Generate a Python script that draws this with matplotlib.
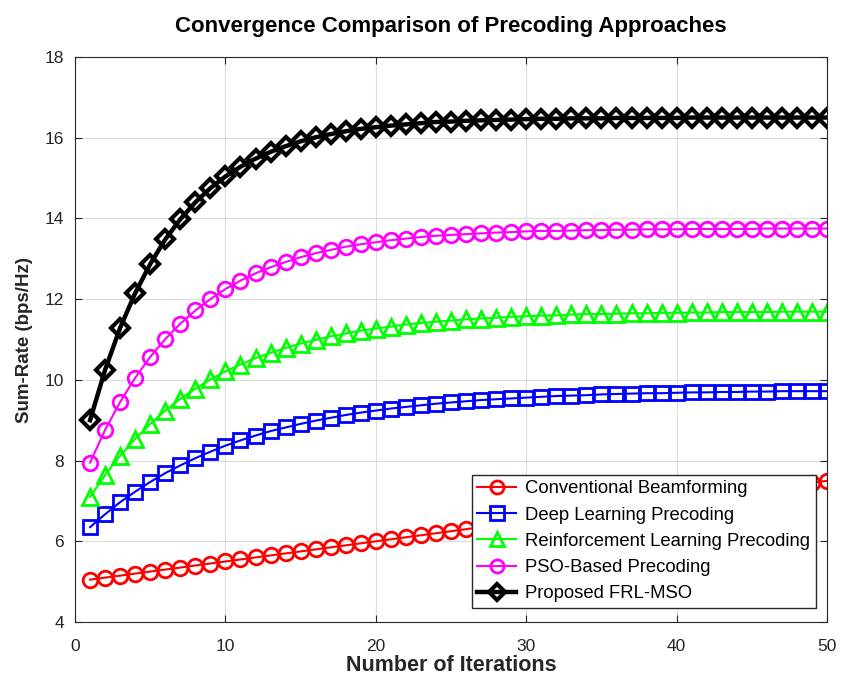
import numpy as np
import matplotlib
matplotlib.use("Agg")
import matplotlib.pyplot as plt

iterations = list(range(1, 51))

conventional = [5.05, 5.10, 5.15, 5.20, 5.25, 5.30, 5.35, 5.40, 5.45, 5.50,
                5.55, 5.60, 5.65, 5.70, 5.75, 5.80, 5.85, 5.90, 5.95, 6.00,
                6.05, 6.10, 6.15, 6.20, 6.25, 6.30, 6.35, 6.40, 6.45, 6.50,
                6.55, 6.60, 6.65, 6.70, 6.75, 6.80, 6.85, 6.90, 6.95, 7.00,
                7.05, 7.10, 7.15, 7.20, 7.25, 7.30, 7.35, 7.40, 7.45, 7.50]
deep_learning = [6.35, 6.67, 6.97, 7.23, 7.47, 7.69, 7.88, 8.06, 8.22, 8.37,
                 8.50, 8.62, 8.73, 8.82, 8.91, 8.99, 9.06, 9.13, 9.19, 9.24,
                 9.29, 9.33, 9.37, 9.41, 9.44, 9.47, 9.50, 9.52, 9.54, 9.56,
                 9.58, 9.60, 9.61, 9.62, 9.64, 9.65, 9.66, 9.67, 9.67, 9.68,
                 9.69, 9.69, 9.70, 9.70, 9.71, 9.71, 9.72, 9.72, 9.72, 9.72]
reinforcement = [7.10, 7.64, 8.12, 8.54, 8.91, 9.24, 9.53, 9.78, 10.01, 10.21,
                 10.38, 10.54, 10.67, 10.79, 10.90, 10.99, 11.08, 11.15, 11.22, 11.27,
                 11.32, 11.37, 11.41, 11.44, 11.47, 11.50, 11.52, 11.54, 11.56, 11.58,
                 11.59, 11.60, 11.62, 11.63, 11.63, 11.64, 11.65, 11.65, 11.66, 11.66,
                 11.67, 11.67, 11.68, 11.68, 11.68, 11.68, 11.69, 11.69, 11.69, 11.69]
pso = [7.95, 8.76, 9.45, 10.05, 10.57, 11.01, 11.39, 11.72, 12.00, 12.25,
       12.46, 12.64, 12.79, 12.92, 13.04, 13.14, 13.22, 13.30, 13.36, 13.41,
       13.46, 13.50, 13.54, 13.57, 13.59, 13.61, 13.63, 13.65, 13.66, 13.68,
       13.69, 13.69, 13.70, 13.71, 13.71, 13.72, 13.72, 13.73, 13.73, 13.73,
       13.74, 13.74, 13.74, 13.74, 13.74, 13.75, 13.75, 13.75, 13.75, 13.75]
proposed = [9.00, 10.25, 11.29, 12.15, 12.87, 13.48, 13.98, 14.40, 14.75, 15.04,
            15.28, 15.48, 15.65, 15.79, 15.91, 16.01, 16.09, 16.16, 16.22, 16.26,
            16.30, 16.33, 16.36, 16.39, 16.40, 16.42, 16.43, 16.44, 16.45, 16.46,
            16.47, 16.47, 16.48, 16.48, 16.48, 16.49, 16.49, 16.49, 16.49, 16.49,
            16.50, 16.50, 16.50, 16.50, 16.50, 16.50, 16.50, 16.50, 16.50, 16.50]

labels = ["Conventional Beamforming", "Deep Learning Precoding",
          "Reinforcement Learning Precoding", "PSO-Based Precoding",
          "Proposed FRL-MSO"]

plt.rcParams["font.family"] = ["Liberation Sans", "DejaVu Sans"]

fig = plt.figure(figsize=(8.41, 6.81), dpi=100)
ax = fig.add_axes([0.0892, 0.0866, 0.8942, 0.8297])

ax.plot(iterations, conventional, "-o", color="red", lw=1.5, ms=10.5, mew=2,
        mfc="none", label=labels[0])
ax.plot(iterations, deep_learning, "-s", color="blue", lw=1.5, ms=10.5, mew=2,
        mfc="none", label=labels[1])
ax.plot(iterations, reinforcement, "-^", color="#00ff00", lw=1.5, ms=11, mew=2,
        mfc="none", label=labels[2])
ax.plot(iterations, pso, "-o", color="magenta", lw=1.5, ms=10.5, mew=2,
        mfc="none", label=labels[3])
ax.plot(iterations, proposed, "-D", color="black", lw=3.2, ms=9, mew=3,
        mfc="none", label=labels[4])

ax.set_xlim(0, 50)
ax.set_ylim(4, 18)
ax.set_xticks(np.arange(0, 51, 10))
ax.set_yticks(np.arange(4, 19, 2))
ax.grid(True, color="#dcdcdc", lw=0.8)
ax.set_axisbelow(True)
ax.tick_params(direction="in", length=5, labelsize=12.5, colors="#262626",
               top=True, right=True)
ax.tick_params(axis="x", pad=12)
ax.tick_params(axis="y", pad=8)
for s in ax.spines.values():
    s.set_color("#262626")

ax.set_xlabel("Number of Iterations", fontsize=15.5, fontweight="bold",
              color="#262626", labelpad=1)
ax.set_ylabel("Sum-Rate (bps/Hz)", fontsize=13.5, fontweight="bold",
              color="#262626", labelpad=8)
ax.set_title("Convergence Comparison of Precoding Approaches", fontsize=16,
             fontweight="bold", pad=18)

leg = ax.legend(loc="lower right", bbox_to_anchor=(0.985, 0.025), fontsize=13.3,
                handlelength=2.1, borderpad=0.3, labelspacing=0.5,
                handletextpad=0.5, borderaxespad=0, markerscale=0.9,
                fancybox=False, framealpha=1, edgecolor="#262626")
leg.get_frame().set_linewidth(1.0)

fig.savefig("out.png", dpi=100)
